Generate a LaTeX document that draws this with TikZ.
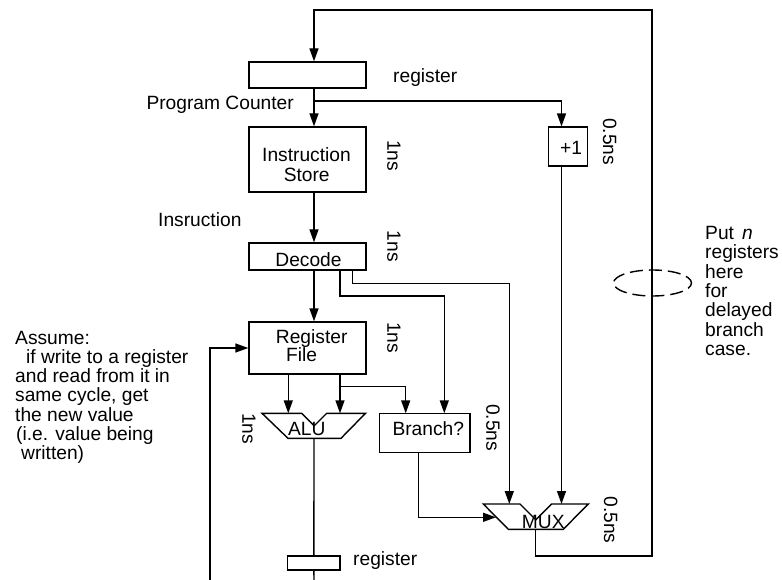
\documentclass[tikz,border=0pt]{standalone}
\usepackage{fontspec}
\setmainfont{Liberation Sans}
\usetikzlibrary{arrows.meta}
\begin{document}
\begin{tikzpicture}[x=1pt,y=-1pt,
  wire/.style={line width=1.4pt},
  arr/.style={wire,-{Triangle[length=13pt,width=9pt]}},
  box/.style={draw,line width=1.4pt,inner sep=0pt},
  lbl/.style={font=\fontsize{19.2}{19.3}\selectfont,inner sep=0pt},
  tm/.style={lbl,rotate=-90}]
\useasboundingbox (0,0) rectangle (782,580);
% boxes
\node[box,minimum width=117pt,minimum height=26pt] (pc) at (307.5,75) {};
\node[box,minimum width=117pt,minimum height=65pt] (is) at (307.5,159.5) {};
\node[box,minimum width=117pt,minimum height=27pt] (dec) at (307.5,256.5) {};
\node[box,minimum width=117pt,minimum height=52pt] (rf) at (307.5,348) {};
\node[box,minimum width=39.4pt,minimum height=38.7pt] (inc) at (568,146.5) {};
\node[box,minimum width=90.7pt,minimum height=39pt] (br) at (424.7,432.8) {};
\node[box,minimum width=52.3pt,minimum height=14pt] (reg2) at (313.9,563) {};
% ALU and MUX shapes
\draw[wire] (262,413.3) -- (301.7,413.3) -- (314.2,425.8) -- (326.7,413.3) -- (365.5,413.3) -- (341,438.3) -- (288,438.3) -- cycle;
\draw[wire] (483.3,504) -- (520,504) -- (535.8,519.8) -- (551.7,504) -- (588.3,504) -- (563.3,529.3) -- (508.3,529.3) -- cycle;
\coordinate (alu) at (314,426);
\coordinate (mux) at (535.7,517);
% texts in boxes
\node[lbl,anchor=base] (tis1) at (306.5,161.7) {Instruction};
\node[lbl,anchor=base] (tis2) at (306.7,181.7) {Store};
\node[lbl,anchor=base] (tdec) at (308.5,266) {Decode};
\node[lbl,anchor=base] (trf1) at (311.7,343.3) {Register};
\node[lbl,anchor=base] (trf2) at (301.7,361.7) {File};
\node[lbl,anchor=base] (tinc) at (571,155) {+1};
\node[lbl,anchor=base] (tbr) at (428.3,435) {Branch?};
\node[lbl,anchor=base] (talu) at (306.7,435) {ALU};
\node[lbl,anchor=base] (tmux) at (543.3,528.3) {MUX};
% labels
\node[lbl,anchor=base west] (treg1) at (393,83) {register};
\node[lbl,anchor=base east] (tpc) at (294,109.3) {Program Counter};
\node[lbl,anchor=base west] (tins) at (158,226.7) {Insruction};
\node[lbl,anchor=base west] (treg2) at (353,565) {register};
\node[tm] (n1) at (394,155.8) {1ns};
\node[tm] (n2) at (394,246.3) {1ns};
\node[tm] (n3) at (394,337.5) {1ns};
\node[tm] (n4) at (249,428.8) {1ns};
\node[tm] (h1) at (609.7,141.7) {0.5ns};
\node[tm] (h2) at (493,427.5) {0.5ns};
\node[tm] (h3) at (610.8,520) {0.5ns};
% assume block
\node[lbl,anchor=base west] (a1) at (15,344) {Assume:};
\node[lbl,anchor=base west] (a2) at (26,363.3) {if write to a register};
\node[lbl,anchor=base west] (a3) at (15,382.6) {and read from it in};
\node[lbl,anchor=base west] (a4) at (15,401.9) {same cycle, get};
\node[lbl,anchor=base west] (a5) at (15,421.2) {the new value};
\node[lbl,anchor=base west] (a6) at (16,440.5) {(i.e. value being};
\node[lbl,anchor=base west] (a7) at (21,459.8) {written)};
% put n block
\node[lbl,anchor=base west] (p1) at (705,239.3) {Put\hspace{8pt}\textit{n}};
\node[lbl,anchor=base west] (p2) at (705,258.7) {registers};
\node[lbl,anchor=base west] (p3) at (705,278) {here};
\node[lbl,anchor=base west] (p4) at (705,297.4) {for};
\node[lbl,anchor=base west] (p5) at (705,316.8) {delayed};
\node[lbl,anchor=base west] (p6) at (705,336.2) {branch};
\node[lbl,anchor=base west] (p7) at (705,355.6) {case.};
% coordinates
\coordinate (sp) at (314,0);
\coordinate (incx) at (561.5,0);
\coordinate (muxout) at (535.7,529.3);
\coordinate (fbB) at (652,556);
\coordinate (fbT) at (652,10);
\coordinate (pcbr) at (314,101);
\coordinate (muxR) at (561.5,504);
\coordinate (muxL) at (509.3,504);
\coordinate (d1) at (340,296);
\coordinate (d2) at (352.7,283.3);
\coordinate (brL) at (405.7,413.3);
\coordinate (brR) at (444.3,413.3);
\coordinate (alu1) at (288.3,413.3);
\coordinate (alu2) at (340,413.3);
\coordinate (rfbr) at (340,386.7);
\coordinate (brout) at (418.3,452.3);
\coordinate (muxin) at (496,517.3);
\coordinate (aluout) at (314,438.3);
\coordinate (bot) at (314,580);
\coordinate (fbL) at (210,580);
% connectors
\draw[arr] (muxout) |- (fbB) -- (fbT) -| (pc.north -| sp);
\draw[arr] (pc.south -| sp) -- (is.north -| sp);
\draw[arr] (pcbr) -| (inc.north -| incx);
\draw[arr] (inc.south -| incx) -- (muxR);
\draw[arr] (is.south -| sp) -- (dec.north -| sp);
\draw[arr] (dec.south -| sp) -- (rf.north -| sp);
\draw[arr] (dec.south -| d1) |- (d1) -| (brR);
\draw[arr] (dec.south -| d2) |- (d2) -| (muxL);
\draw[arr] (rf.south -| alu1) -- (alu1);
\draw[arr] (rf.south -| alu2) -- (alu2);
\draw[arr] (rfbr) -| (brL);
\draw[arr] (brout) |- (muxin);
\draw[wire] (aluout) -- (reg2.north);
\draw[wire] (reg2.south) -- (bot);
\draw[arr] (fbL) |- (rf.west);
\draw[wire,dash pattern=on 13pt off 6pt,dash phase=4pt] (652.5,283) ellipse [x radius=39pt,y radius=13pt];
\end{tikzpicture}
\end{document}
